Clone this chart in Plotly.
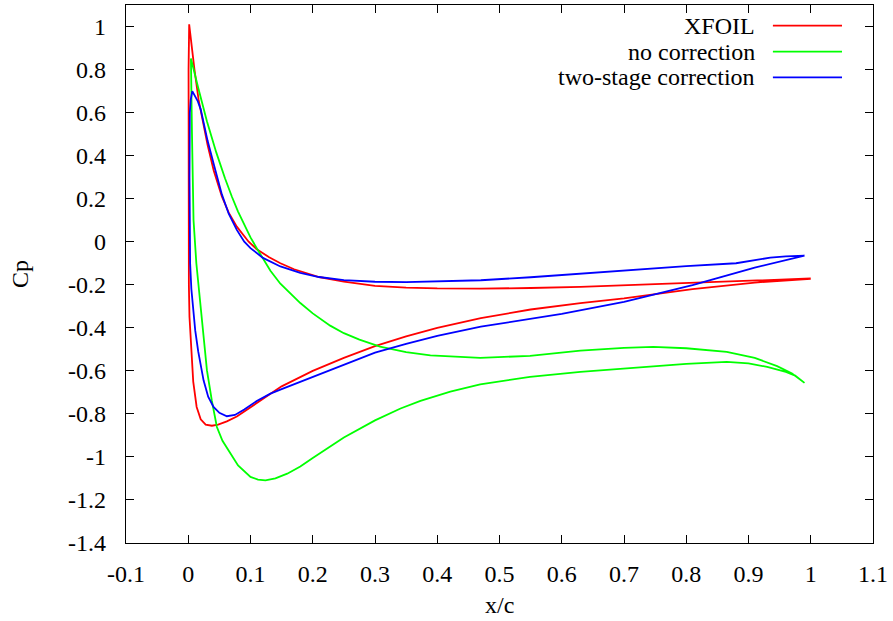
import plotly.graph_objects as go

# XFOIL: trailing edge -> pressure side -> leading edge -> suction side -> trailing edge
xfoil_x = [1.0, 0.9, 0.81, 0.7, 0.63, 0.55, 0.47, 0.4, 0.35, 0.3, 0.25, 0.21, 0.17, 0.148, 0.13, 0.11,
           0.097, 0.078, 0.065, 0.054, 0.041, 0.031, 0.024, 0.0166, 0.01, 0.005, 0.0015,
           0.0005, 0.0003, 0.0005, 0.001, 0.002, 0.005, 0.008, 0.0135, 0.02, 0.028, 0.038, 0.048, 0.062,
           0.078, 0.1, 0.132, 0.15, 0.2, 0.25, 0.3, 0.35, 0.4, 0.47, 0.55, 0.63, 0.7, 0.81, 0.91, 1.0]
xfoil_cp = [-0.171, -0.182, -0.192, -0.204, -0.21, -0.215, -0.218, -0.217, -0.213, -0.205, -0.185, -0.164, -0.128, -0.10, -0.072, -0.035,
            0.0, 0.07, 0.135, 0.21, 0.33, 0.45, 0.56, 0.66, 0.80, 0.93, 1.01,
            0.8, 0.4, 0.0, -0.2, -0.35, -0.52, -0.65, -0.768, -0.825, -0.85, -0.855, -0.85, -0.835,
            -0.812, -0.77, -0.705, -0.672, -0.60, -0.54, -0.485, -0.44, -0.40, -0.355, -0.315, -0.285, -0.263, -0.22, -0.19, -0.172]

# no correction
nocorr_x = [0.99, 0.97, 0.946, 0.91, 0.865, 0.8, 0.747, 0.7, 0.63, 0.549, 0.469, 0.389, 0.35, 0.308, 0.275, 0.25, 0.228,
            0.2, 0.18, 0.165, 0.148, 0.132, 0.12, 0.11, 0.1, 0.09, 0.08, 0.07, 0.059, 0.045, 0.03, 0.0165, 0.008, 0.0043,
            0.006, 0.0085, 0.013, 0.019, 0.025, 0.030, 0.038, 0.046, 0.055, 0.065, 0.08, 0.1, 0.112, 0.124,
            0.14, 0.159, 0.18, 0.2, 0.223, 0.25, 0.3, 0.341, 0.373, 0.421, 0.469, 0.549, 0.63, 0.731, 0.8, 0.865,
            0.9, 0.93, 0.96, 0.975, 0.99]
nocorr_cp = [-0.656, -0.612, -0.578, -0.54, -0.512, -0.495, -0.489, -0.493, -0.506, -0.53, -0.54, -0.528, -0.513, -0.487, -0.455, -0.425, -0.39,
             -0.333, -0.285, -0.245, -0.195, -0.135, -0.08, -0.03, 0.02, 0.08, 0.14, 0.21, 0.295, 0.415, 0.56, 0.71, 0.80, 0.851,
             0.5, 0.1, -0.1, -0.288, -0.45, -0.597, -0.74, -0.861, -0.925, -0.969, -1.04, -1.093, -1.105, -1.109,
             -1.10, -1.078, -1.045, -1.005, -0.96, -0.91, -0.83, -0.775, -0.74, -0.697, -0.663, -0.628, -0.605, -0.582, -0.568, -0.558,
             -0.565, -0.582, -0.605, -0.622, -0.656]

# two-stage correction
twostage_x = [0.99, 0.96, 0.935, 0.88, 0.8, 0.747, 0.7, 0.6, 0.55, 0.47, 0.4, 0.35, 0.3, 0.25, 0.21, 0.18,
              0.148, 0.12, 0.1, 0.09, 0.078, 0.065, 0.054, 0.046, 0.041, 0.031, 0.025, 0.02, 0.015, 0.01, 0.0065,
              0.004, 0.0025, 0.002, 0.0022, 0.003, 0.005, 0.008, 0.0112, 0.016, 0.0246, 0.032, 0.0406, 0.05,
              0.062, 0.075, 0.09, 0.11, 0.132, 0.15, 0.2, 0.25, 0.3, 0.35, 0.4, 0.47, 0.55, 0.6, 0.7, 0.81,
              0.91, 0.96, 0.99]
twostage_cp = [-0.065, -0.068, -0.074, -0.10, -0.113, -0.124, -0.133, -0.156, -0.165, -0.179, -0.186, -0.188, -0.186, -0.178, -0.164, -0.145,
               -0.115, -0.075, -0.03, 0.0, 0.055, 0.13, 0.22, 0.30, 0.36, 0.47, 0.555, 0.615, 0.655, 0.685, 0.70,
               0.66, 0.6, 0.3, 0.0, -0.1, -0.22, -0.33, -0.412, -0.51, -0.644, -0.72, -0.768, -0.795,
               -0.811, -0.805, -0.78, -0.74, -0.706, -0.685, -0.628, -0.57, -0.515, -0.475, -0.437, -0.395, -0.36, -0.335, -0.28, -0.202,
               -0.12, -0.085, -0.065]

series_names = ["XFOIL", "no correction", "two-stage correction"]
series_colors = ["#ff0000", "#00ff00", "#0000ff"]
series_x = [xfoil_x, nocorr_x, twostage_x]
series_y = [xfoil_cp, nocorr_cp, twostage_cp]

x_ticks = [-0.1, 0, 0.1, 0.2, 0.3, 0.4, 0.5, 0.6, 0.7, 0.8, 0.9, 1, 1.1]
y_ticks = [-1.4, -1.2, -1, -0.8, -0.6, -0.4, -0.2, 0, 0.2, 0.4, 0.6, 0.8, 1]

FONT = "Liberation Serif"
FS = 24

fig = go.Figure()
for name, color, xs, ys in zip(series_names, series_colors, series_x, series_y):
    fig.add_trace(go.Scatter(x=xs, y=ys, mode="lines", name=name,
                             line=dict(color=color, width=1.8), showlegend=False))

# custom gnuplot-style legend (text right-aligned, sample line on the right)
legend_rows_y = [0.9615, 0.9132, 0.8656]
for name, color, ly in zip(series_names, series_colors, legend_rows_y):
    fig.add_annotation(x=0.8447, y=ly, xref="paper", yref="paper", text=name,
                       showarrow=False, xanchor="right", yanchor="middle",
                       font=dict(family=FONT, size=FS, color="black"))
    fig.add_shape(type="line", xref="paper", yref="paper", x0=0.866, x1=0.9585, y0=ly, y1=ly,
                  line=dict(color=color, width=1.8))

# axis titles
fig.add_annotation(x=(20 - 126) / 747, y=0.5, xref="paper", yref="paper", text="Cp",
                   textangle=-90, showarrow=False, xanchor="center", yanchor="middle",
                   font=dict(family=FONT, size=FS, color="black"))
fig.add_annotation(x=0.5, y=-(605 - 543) / 538, xref="paper", yref="paper", text="x/c",
                   showarrow=False, xanchor="center", yanchor="middle",
                   font=dict(family=FONT, size=FS, color="black"))

axis_common = dict(showgrid=False, zeroline=False, showline=True, linecolor="black", linewidth=1.3,
                   mirror="allticks", ticks="inside", ticklen=8, tickwidth=1, tickcolor="black",
                   tickfont=dict(family=FONT, size=FS, color="black"))

fig.update_xaxes(range=[-0.1, 1.1], tickvals=x_ticks, ticktext=[f"{v:g}" for v in x_ticks],
                 ticklabelstandoff=9, **axis_common)
fig.update_yaxes(range=[-1.4, 1.1], tickvals=y_ticks, ticktext=[f"{v:g}" for v in y_ticks],
                 ticklabelstandoff=14, **axis_common)

fig.update_layout(width=893, height=621, margin=dict(l=126, r=20, t=5, b=78),
                  plot_bgcolor="white", paper_bgcolor="white", showlegend=False,
                  font=dict(family=FONT, size=FS, color="black"))

fig.write_html("out.html", config={"displayModeBar": False},
               post_script="document.body.style.margin='0';document.body.style.padding='0';")
